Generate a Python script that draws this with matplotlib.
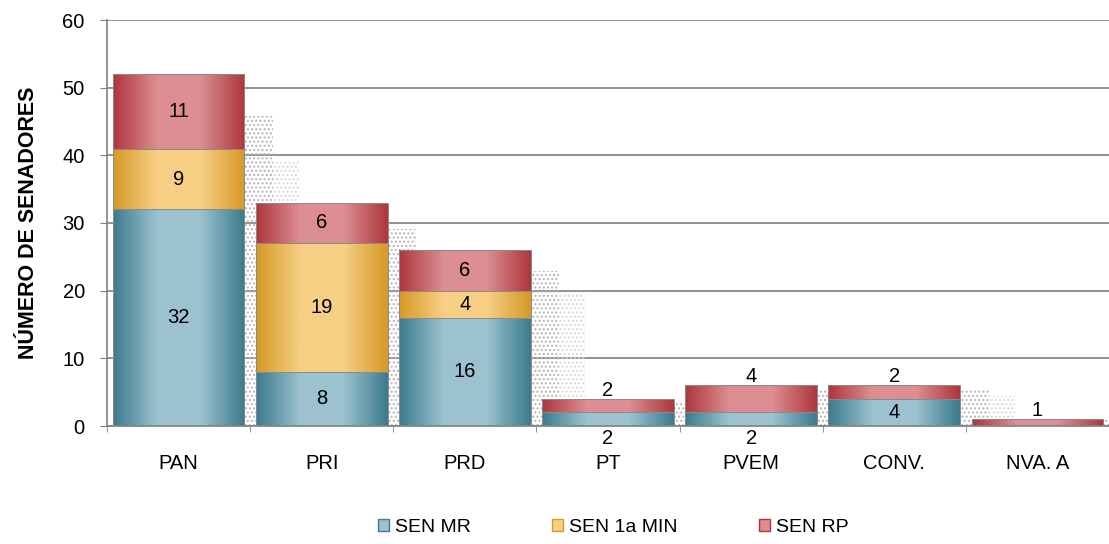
import numpy as np
import matplotlib
matplotlib.use("Agg")
import matplotlib.pyplot as plt
from matplotlib.colors import LinearSegmentedColormap
from matplotlib.patches import Rectangle

plt.rcParams["font.family"] = ["Liberation Sans", "DejaVu Sans"]

partidos = ["PAN", "PRI", "PRD", "PT", "PVEM", "CONV.", "NVA. A"]
sen_mr = [32, 8, 16, 2, 2, 4, 0]
sen_1a_min = [9, 19, 4, 0, 0, 0, 0]
sen_rp = [11, 6, 6, 2, 4, 2, 1]
series_names = ["SEN MR", "SEN 1a MIN", "SEN RP"]

# dark / light shades for each series (gradient fill)
shades = [("#3d7d8e", "#9cc2d0"), ("#d69a28", "#f7cf85"), ("#ae383d", "#dc8e92")]

fig = plt.figure(figsize=(11.09, 5.44), dpi=100)
ax = fig.add_axes([107 / 1109, 1 - 426 / 544, 1002 / 1109, 406 / 544])

x = np.arange(len(partidos))
width = 0.92
all_series = [sen_mr, sen_1a_min, sen_rp]
totals = np.sum(all_series, axis=0)

# dotted soft shadow to the right of each stack
for xi, t in zip(x, totals):
    right = xi + width / 2
    for off, w, frac, col in [(0.0, 0.2, 0.88, "#b5b5b5"), (0.2, 0.18, 0.75, "#d8d8d8")]:
        ax.add_patch(Rectangle((right + off, 0), w, t * frac, facecolor="none",
                               edgecolor=col, linewidth=0, hatch="....", zorder=1))

bottoms = np.zeros(len(partidos))
grad = np.linspace(0, 1, 64).reshape(1, -1)
for vals, (dark, light), name in zip(all_series, shades, series_names):
    bars = ax.bar(x, vals, width, bottom=bottoms, color=light, edgecolor="none",
                  label=name, zorder=2)
    cmap = LinearSegmentedColormap.from_list(name, [dark, light, light, dark])
    for b in bars:
        if b.get_height() <= 0:
            continue
        x0, y0 = b.get_x(), b.get_y()
        im = ax.imshow(grad, cmap=cmap, aspect="auto", zorder=2.5,
                       extent=(x0, x0 + b.get_width(), y0, y0 + b.get_height()))
        im.set_clip_path(b)
        ax.add_patch(Rectangle((x0, y0), b.get_width(), b.get_height(),
                               facecolor="none", edgecolor="#8a8a8a",
                               linewidth=0.7, zorder=3))
    bottoms = bottoms + np.array(vals)

# data labels (small stacks get their labels outside the bar)
bottoms = np.zeros(len(partidos))
for si, vals in enumerate(all_series):
    for i, v in enumerate(vals):
        if v > 0:
            y = bottoms[i] + v / 2
            if totals[i] <= 6:
                if si == 2:
                    y = totals[i] + 1.3
                elif v <= 2:
                    y = -1.9
            ax.text(i, y, str(v), ha="center", va="center", fontsize=14.5,
                    color="black", zorder=5, clip_on=False)
        bottoms[i] += v

ax.set_xlim(-0.5, len(partidos) - 0.5)
ax.set_ylim(0, 60)
ax.set_yticks(range(0, 61, 10))
ax.set_xticks(x)
ax.set_xticklabels(partidos, fontsize=14.5)
ax.set_xticks(np.arange(-0.5, len(partidos), 1), minor=True)
ax.tick_params(axis="x", which="major", length=0, pad=20)
ax.tick_params(axis="x", which="minor", length=4, color="#808080", direction="out")
ax.tick_params(axis="y", labelsize=14.5, length=5, pad=11, color="#808080",
               direction="out")
ax.yaxis.grid(True, color="#808080", linewidth=1.2)
ax.set_axisbelow(True)
for s in ["top", "right"]:
    ax.spines[s].set_visible(False)
for s in ["left", "bottom"]:
    ax.spines[s].set_color("#808080")
    ax.spines[s].set_linewidth(1.2)
ax.set_ylabel("NÚMERO DE SENADORES", fontsize=15.5, fontweight="bold", labelpad=17)

handles = [Rectangle((0, 0), 1, 1, facecolor=l, edgecolor=d, linewidth=1)
           for d, l in shades]
fig.legend(handles, series_names, loc="center", bbox_to_anchor=(0.553, 0.03),
           ncol=3, frameon=False, fontsize=14, handlelength=0.55, handleheight=0.55,
           handletextpad=0.3, columnspacing=4.2)

fig.savefig("out.png", dpi=100)
